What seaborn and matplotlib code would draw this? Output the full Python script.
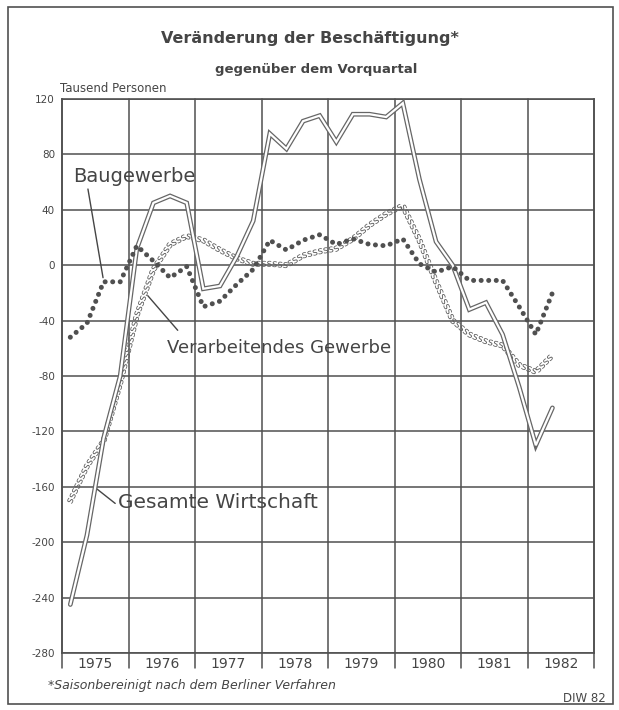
import numpy as np
import pandas as pd
import seaborn as sns
import matplotlib.pyplot as plt
from matplotlib.patches import Rectangle
from matplotlib.patheffects import AbstractPathEffect
from matplotlib.textpath import TextPath
from matplotlib.transforms import Affine2D

# --- Daten: Veränderung gegenüber Vorquartal, Tausend Personen (1975Q1 .. 1982Q2) ---
years = [1975, 1976, 1977, 1978, 1979, 1980, 1981, 1982]
gesamte = [-245, -195, -125, -80, 12, 45, 50, 45,
           -17, -15, 6, 32, 95, 84, 104, 108,
           89, 109, 109, 107, 117, 62, 17, 0,
           -32, -27, -50, -88, -130, -103]
verarbeitend = [-170, -145, -127, -85, -36, -3, 15, 21,
                18, 11, 5, 1, 1, 0, 7, 10,
                12, 19, 29, 37, 43, 18, -12, -40,
                -50, -55, -58, -72, -77, -65]
bau = [-52, -42, -12, -12, 14, 3, -9, -1,
       -30, -26, -14, -3, 18, 11, 18, 22,
       15, 19, 15, 14, 19, 1, -5, -1,
       -11, -11, -11, -30, -50, -20]
yticks = list(range(-280, 121, 40))

n = len(gesamte)
quartal = [1975 + (i + 0.5) / 4 for i in range(n)]
df = pd.DataFrame({'t': quartal, 'gesamt': gesamte, 'verarb': verarbeitend, 'bau': bau})

INK = '#454545'
LINE = '#666666'


class LetterStroke(AbstractPathEffect):
    """zeichnet die Linie als Folge von 's'-Zeichen (wie im Original)"""

    def __init__(self, letter='s', size=7.5, spacing=3.9):
        super().__init__()
        self.glyph = TextPath((0, 0), letter, size=size)
        ext = self.glyph.get_extents()
        self.cx = (ext.x0 + ext.x1) / 2
        self.cy = (ext.y0 + ext.y1) / 2
        self.spacing = spacing

    def draw_path(self, renderer, gc, tpath, affine, rgbFace=None):
        pts = affine.transform(tpath.vertices)
        seg = np.diff(pts, axis=0)
        seglen = np.hypot(seg[:, 0], seg[:, 1])
        cum = np.concatenate([[0], np.cumsum(seglen)])
        px = renderer.points_to_pixels(1.0)
        gc0 = renderer.new_gc()
        gc0.copy_properties(gc)
        gc0.set_linewidth(0)
        col = gc.get_rgb()
        for d in np.arange(0, cum[-1], self.spacing * px):
            i = min(np.searchsorted(cum, d, side='right') - 1, len(seg) - 1)
            t = (d - cum[i]) / seglen[i] if seglen[i] else 0
            x, y = pts[i] + t * seg[i]
            ang = np.arctan2(seg[i, 1], seg[i, 0])
            tr = (Affine2D().translate(-self.cx, -self.cy).scale(px)
                  .rotate(ang).translate(x, y))
            renderer.draw_path(gc0, self.glyph, tr, col)
        gc0.restore()


sns.set_style('white')
plt.rcParams['font.family'] = ['DejaVu Sans']
plt.rcParams['axes.unicode_minus'] = False

fig = plt.figure(figsize=(6.19, 7.10), dpi=100)
ax = fig.add_axes([62 / 619, 57 / 710, 532 / 619, 554 / 710])

# Gesamte Wirtschaft: Doppellinie
sns.lineplot(data=df, x='t', y='gesamt', ax=ax, color=LINE, lw=3.4,
             errorbar=None, solid_joinstyle='miter', zorder=4)
sns.lineplot(data=df, x='t', y='gesamt', ax=ax, color='white', lw=1.6,
             errorbar=None, solid_joinstyle='miter', zorder=5)
# Verarbeitendes Gewerbe: "ssss"
sns.lineplot(data=df, x='t', y='verarb', ax=ax, color='#5e5e5e', lw=1,
             errorbar=None, path_effects=[LetterStroke()], zorder=3)
# Baugewerbe: Punkte
sns.lineplot(data=df, x='t', y='bau', ax=ax, color='#505050', lw=3.6,
             errorbar=None, linestyle=(0, (0.01, 1.5)),
             dash_capstyle='round', zorder=6)

ax.set_xlim(1975, 1983)
ax.set_ylim(-280, 120)
ax.set_xlabel('')
ax.set_ylabel('')

# Gitter
ax.set_yticks(yticks)
ax.set_yticklabels([str(v) for v in yticks], fontsize=7.5, color=INK)
ax.grid(axis='y', color='#505050', lw=1.1)
for yr in years + [years[-1] + 1]:
    ax.axvline(yr, ymin=-0.027, ymax=1, color='#505050', lw=1.1,
               clip_on=False, zorder=2)
ax.set_xticks([y + 0.5 for y in years])
ax.set_xticklabels([str(y) for y in years], fontsize=10, color=INK)
ax.set_xticks([y + q / 4 for y in years for q in (1, 2, 3)], minor=True)
ax.tick_params(axis='x', which='major', length=0, pad=3)
ax.tick_params(axis='x', which='minor', direction='in', length=4.5,
               width=1, color='#505050')
ax.tick_params(axis='y', length=4, width=1, color='#505050', pad=1)
for sp in ax.spines.values():
    sp.set_color('#505050')
    sp.set_linewidth(1.2)

# Beschriftungen der Linien
ax.text(1975.165, 64, 'Baugewerbe', fontsize=14, color=INK, va='center')
ax.annotate('', xy=(1975.617, -9), xytext=(1975.39, 55),
            arrowprops=dict(arrowstyle='-', color=INK, lw=1, shrinkA=0, shrinkB=0))
ax.text(1976.58, -60, 'Verarbeitendes Gewerbe', fontsize=13, color=INK,
        va='center')
ax.annotate('', xy=(1976.29, -22), xytext=(1976.74, -47),
            arrowprops=dict(arrowstyle='-', color=INK, lw=1, shrinkA=0, shrinkB=0))
ax.text(1975.84, -171, 'Gesamte Wirtschaft', fontsize=14.5, color=INK,
        va='center')
ax.annotate('', xy=(1975.51, -161), xytext=(1975.8, -172),
            arrowprops=dict(arrowstyle='-', color=INK, lw=1, shrinkA=0, shrinkB=0))

# Titel usw.
fig.text(0.5, 1 - 38 / 710, 'Veränderung der Beschäftigung*', ha='center',
         va='center', fontsize=11.5, fontweight='bold', color=INK)
fig.text(0.51, 1 - 69 / 710, 'gegenüber dem Vorquartal', ha='center',
         va='center', fontsize=9.5, fontweight='bold', color=INK)
fig.text(60 / 619, 1 - 89 / 710, 'Tausend Personen', ha='left', va='center',
         fontsize=8.5, color=INK)
fig.text(48 / 619, 1 - 686 / 710, '*Saisonbereinigt nach dem Berliner Verfahren',
         ha='left', va='center', fontsize=9, style='italic', color=INK)
fig.text(606 / 619, 1 - 698 / 710, 'DIW 82', ha='right', va='center',
         fontsize=8.5, color=INK)

fig.patches.append(Rectangle((8 / 619, 6 / 710), 605 / 619, 697 / 710,
                             transform=fig.transFigure, fill=False,
                             ec='#505050', lw=1.2))

fig.savefig('out.png', dpi=100, facecolor='white')
